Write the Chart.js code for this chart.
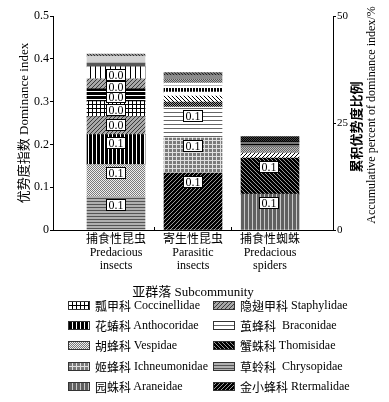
<!DOCTYPE html>
<html><head><meta charset="utf-8">
<script src="https://cdn.jsdelivr.net/npm/chart.js@4.4.1/dist/chart.umd.min.js"></script>
<style>
body{margin:0;background:#fff}
#wrap{position:relative;width:389px;height:402px;overflow:hidden;background:#fff}
.rt{position:absolute;white-space:nowrap;transform:translate(-50%,-50%) rotate(-90deg);color:#000;line-height:1}
.lg{position:absolute;display:flex;align-items:center;white-space:pre;height:14px;color:#000}
.lg canvas{display:block;margin-right:5px}
.zh{font-family:"Noto Sans CJK SC";font-size:12px}
.en{font-family:"Liberation Serif";font-size:12px}
</style></head><body>
<div id="wrap">
<canvas id="c" width="389" height="402"></canvas>
<div class="rt" style="left:355px;top:127px;font-family:'Noto Sans CJK SC';font-size:13px;font-weight:bold">累积优势度比例</div>
<div class="rt" style="left:371px;top:115px;font-family:'Liberation Serif';font-size:12px">Accumulative percent of dominance index/%</div>
</div>
<script>
// ---------- data ----------
const categories = [["捕食性昆虫","Predacious","insects"],["寄生性昆虫","Parasitic","insects"],["捕食性蜘蛛","Predacious","spiders"]];
const yTicks = [0, 0.1, 0.2, 0.3, 0.4, 0.5];
const yTickLabels = ["0","0.1","0.2","0.3","0.4","0.5"];
const y2Ticks = [0, 25, 50];
const y2TickLabels = ["0","25","50"];

const familyZh = ["瓢甲科","隐翅甲科","花蝽科","茧蜂科","胡蜂科","蟹蛛科","姬蜂科","草蛉科","园蛛科","金小蜂科"];
const familyEn = ["Coccinellidae","Staphylidae","Anthocoridae","Braconidae","Vespidae","Thomisidae","Ichneumonidae","Chrysopidae","Araneidae","Rtermalidae"];

const coccinellidae = [0.035, null, null];
const staphylidae   = [0.042, null, null];
const anthocoridae  = [0.070, null, null];
const braconidae    = [null, 0.072, null];
const vespidae      = [0.075, null, null];
const thomisidae    = [null, null, 0.084];
const ichneumonidae = [null, 0.082, null];
const chrysopidae   = [0.078, null, null];
const araneidae     = [null, null, 0.084];
const rtermalidae   = [null, 0.133, null];
// minor unlisted groups, bottom -> top within each bar
const otherPredInsects = [0.030, 0.023, 0.028, 0.009, 0.016, 0.005];
const otherParasitic   = [0.012, 0.014, 0.009, 0.009, 0.012, 0.009, 0.009, 0.007];
const otherSpiders     = [0.012, 0.014, 0.012, 0.012];

// ---------- styles ----------
const FONT = '"Liberation Serif", "Noto Sans CJK SC", serif';
const helper = document.createElement('canvas').getContext('2d');
function pat(kind, fg, bg, s, lw) {
  s = s || 4; lw = lw || 1;
  const c = document.createElement('canvas'); c.width = s; c.height = s;
  const x = c.getContext('2d');
  x.fillStyle = bg; x.fillRect(0, 0, s, s);
  x.fillStyle = fg; x.strokeStyle = fg; x.lineWidth = lw;
  if (kind === 'h') x.fillRect(0, 0, s, lw);
  else if (kind === 'v') x.fillRect(0, 0, lw, s);
  else if (kind === 'grid') { x.fillRect(0, 0, s, lw); x.fillRect(0, 0, lw, s); }
  else if (kind === 'check') { x.fillRect(0, 0, s / 2, s / 2); x.fillRect(s / 2, s / 2, s / 2, s / 2); }
  else if (kind === 'fd') { x.beginPath(); x.moveTo(0, s); x.lineTo(s, 0); x.moveTo(-1, 1); x.lineTo(1, -1); x.moveTo(s - 1, s + 1); x.lineTo(s + 1, s - 1); x.stroke(); }
  else if (kind === 'bd') { x.beginPath(); x.moveTo(0, 0); x.lineTo(s, s); x.moveTo(-1, s - 1); x.lineTo(1, s + 1); x.moveTo(s - 1, -1); x.lineTo(s + 1, 1); x.stroke(); }
  return helper.createPattern(c, 'repeat');
}
const famStyle = [
  () => pat('grid', '#000', '#fff', 4),
  () => pat('fd', '#3a3a3a', '#a8a8a8', 4),
  () => pat('v', '#fff', '#000', 4),
  () => pat('h', '#666', '#fff', 4),
  () => pat('check', '#7a7a7a', '#eeeeee', 2),
  () => pat('bd', '#999', '#000', 4),
  () => pat('grid', '#e0e0e0', '#7a7a7a', 4),
  () => pat('h', '#555', '#b0b0b0', 3),
  () => pat('v', '#c8c8c8', '#606060', 4),
  () => pat('fd', '#9a9a9a', '#000', 4)
];
const otherPIStyle = [pat('h', '#000', '#fff', 4, 3), pat('fd', '#3a3a3a', '#a8a8a8', 4), pat('v', '#000', '#fff', 5), '#585858', '#d2d2d2', pat('bd', '#333', '#999', 3)];
const otherPAStyle = [pat('check', '#000', '#999', 2), pat('bd', '#000', '#fff', 4), '#ffffff', pat('v', '#fff', '#000', 3), pat('h', '#bbb', '#fff', 5), pat('check', '#555', '#b0b0b0', 2), '#8c8c8c', pat('bd', '#222', '#777', 3)];
const otherPSStyle = [pat('fd', '#000', '#fff', 4), pat('check', '#666', '#bbb', 2), pat('h', '#000', '#777', 3), pat('check', '#000', '#444', 2)];

function oneHot(v, idx) { return categories.map((c, i) => i === idx ? v : null); }
function mk(label, data, bg) { return { label, data, backgroundColor: bg, borderWidth: 0, barThickness: 58 }; }

const famData = [coccinellidae, staphylidae, anthocoridae, braconidae, vespidae, thomisidae, ichneumonidae, chrysopidae, araneidae, rtermalidae];
const F = (k) => mk(familyZh[k] + ' ' + familyEn[k], famData[k], famStyle[k]());
const datasets = [
  F(7), F(4), F(2), F(1), F(0),
  ...otherPredInsects.map((v, i) => mk('其他' + (i + 1), oneHot(v, 0), otherPIStyle[i])),
  F(9), F(6), F(3),
  ...otherParasitic.map((v, i) => mk('其他' + (i + 1), oneHot(v, 1), otherPAStyle[i])),
  F(8), F(5),
  ...otherSpiders.map((v, i) => mk('其他' + (i + 1), oneHot(v, 2), otherPSStyle[i]))
];

const segLabels = {
  id: 'segLabels',
  afterDatasetsDraw(chart) {
    const ctx = chart.ctx;
    ctx.save();
    chart.data.datasets.forEach((ds, di) => {
      const meta = chart.getDatasetMeta(di);
      meta.data.forEach((el, i) => {
        const v = ds.data[i];
        if (v == null || v < 0.02) return;
        const w = 20, h = 12;
        const x0 = Math.round(el.x - 0.5 - w / 2), y0 = Math.round(el.y + 8.5 - h / 2);
        ctx.fillStyle = '#fff';
        ctx.fillRect(x0, y0, w, h);
        ctx.strokeStyle = '#000'; ctx.lineWidth = 1;
        ctx.strokeRect(x0 + 0.5, y0 + 0.5, w - 1, h - 1);
        ctx.fillStyle = '#000';
        ctx.font = '12px "Liberation Serif"';
        ctx.textAlign = 'center'; ctx.textBaseline = 'middle';
        ctx.fillText(v.toFixed(1), x0 + w / 2, y0 + h / 2 + 0.5);
      });
    });
    ctx.restore();
  }
};

Chart.defaults.font.family = FONT;
Chart.defaults.color = '#000';

new Chart(document.getElementById('c'), {
  type: 'bar',
  data: { labels: categories, datasets },
  options: {
    responsive: false, maintainAspectRatio: false, animation: false, devicePixelRatio: 1,
    layout: { padding: { top: 16, left: 0, right: 0, bottom: 102 } },
    plugins: { legend: { display: false }, tooltip: { enabled: false } },
    scales: {
      x: {
        stacked: true, offset: true,
        grid: { display: true, offset: true, drawOnChartArea: false, drawTicks: true, tickLength: -3,
                color: (c) => (c.index === 1 || c.index === 2) ? '#000' : 'rgba(0,0,0,0)' },
        border: { display: true, color: '#000', width: 1 },
        ticks: { color: '#000', font: { size: 12, lineHeight: 1.05 }, padding: 7, maxRotation: 0, autoSkip: false },
        title: { display: true, text: '亚群落 Subcommunity', color: '#000', font: { size: 13 }, padding: { top: 4, bottom: 0 } },
        afterBuildTicks: (s) => { s._startValue = -0.8182; s._valueRange = 3.6364; },
        afterFit: (s) => { s.height = 70; }
      },
      y: {
        stacked: true, position: 'left', min: 0, max: 0.5,
        afterBuildTicks: (s) => { s.ticks = yTicks.map(v => ({ value: v })); },
        ticks: { color: '#000', font: { size: 12 }, padding: 1, callback: (v, i) => yTickLabels[i] },
        grid: { drawOnChartArea: false, drawTicks: true, tickLength: 3, color: '#000' },
        border: { display: true, color: '#000', width: 1 },
        title: { display: true, text: '优势度指数 Dominance index', color: '#000', font: { size: 13 }, padding: { top: 17, bottom: 0 } },
        afterFit: (s) => { s.width = 53; }
      },
      y2: {
        position: 'right', min: 0, max: 50,
        afterBuildTicks: (s) => { s.ticks = y2Ticks.map(v => ({ value: v })); },
        ticks: { color: '#000', font: { size: 11 }, padding: 1, callback: (v, i) => y2TickLabels[i] },
        grid: { drawOnChartArea: false, drawTicks: true, tickLength: 3, color: '#000' },
        border: { display: true, color: '#000', width: 1 },
        afterFit: (s) => { s.width = 56; }
      }
    }
  },
  plugins: [segLabels]
});

// ---------- legend (HTML, 2 columns) ----------
const rowY = [305, 325, 345, 366, 386];
const colX = [68, 213];
const wrap = document.getElementById('wrap');
familyZh.forEach((zh, k) => {
  const row = Math.floor(k / 2), col = k % 2;
  const d = document.createElement('div');
  d.className = 'lg';
  d.style.left = colX[col] + 'px';
  d.style.top = (rowY[row] - 7) + 'px';
  const cv = document.createElement('canvas');
  cv.width = 22; cv.height = 9;
  const cx = cv.getContext('2d');
  cx.fillStyle = famStyle[k]();
  cx.fillRect(0, 0, 22, 9);
  cx.strokeStyle = '#333'; cx.lineWidth = 1;
  cx.strokeRect(0.5, 0.5, 21, 8);
  d.appendChild(cv);
  const z = document.createElement('span'); z.className = 'zh'; z.textContent = zh;
  const e = document.createElement('span'); e.className = 'en'; e.textContent = (col === 1 && (k === 3 || k === 7) ? '  ' : ' ') + familyEn[k];
  d.appendChild(z); d.appendChild(e);
  wrap.appendChild(d);
});
</script>
</body></html>
